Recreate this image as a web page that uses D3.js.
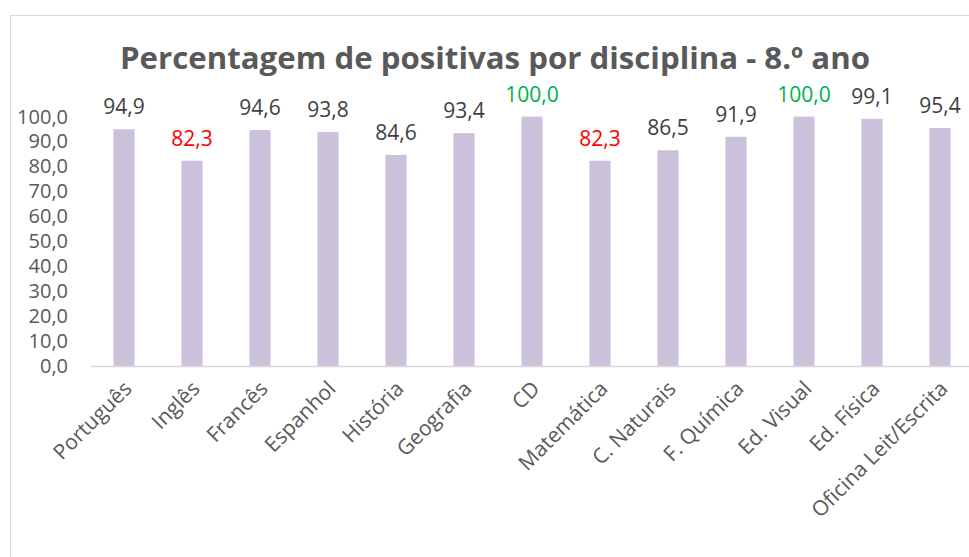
<!DOCTYPE html>
<html>
<head>
<meta charset="utf-8">
<script src="https://cdn.jsdelivr.net/npm/d3@7"></script>
<style>
  body { margin: 0; background: #fff; }
  svg { display: block; font-family: "Open Sans", sans-serif; }
</style>
</head>
<body>
<script>
// chart data
const disciplinas = ['Português', 'Inglês', 'Francês', 'Espanhol', 'História', 'Geografia', 'CD',
    'Matemática', 'C. Naturais', 'F. Química', 'Ed. Visual', 'Ed. Física', 'Oficina Leit/Escrita'];
const positivas = [94.9, 82.3, 94.6, 93.8, 84.6, 93.4, 100.0, 82.3, 86.5, 91.9, 100.0, 99.1, 95.4];
const labelCores = ['#404040', '#FF0000', '#404040', '#404040', '#404040', '#404040', '#00B050',
    '#FF0000', '#404040', '#404040', '#00B050', '#404040', '#404040'];
const yTicks = [0, 10, 20, 30, 40, 50, 60, 70, 80, 90, 100];
const titulo = 'Percentagem de positivas por disciplina - 8.º ano';

const w = 969;
const h = 557;

const fmt = v => v.toFixed(1).replace('.', ',');

const svg = d3.select('body')
    .append('svg')
    .attr('width', w)
    .attr('height', h)

// chart border (cut off on the right and bottom)
svg.append('rect')
    .attr('x', 10.5)
    .attr('y', 15.5)
    .attr('width', 1000)
    .attr('height', 600)
    .attr('fill', 'none')
    .attr('stroke', '#D9D9D9')

svg.append('text')
    .attr('x', 495)
    .attr('y', 69)
    .attr('text-anchor', 'middle')
    .attr('font-size', 31)
    .attr('font-weight', 'bold')
    .attr('fill', '#595959')
    .attr('textLength', 750)
    .attr('lengthAdjust', 'spacingAndGlyphs')
    .text(titulo)

const xScale = d3.scaleBand()
    .domain(disciplinas)
    .range([90, 974])
    .paddingInner(0.69)
    .paddingOuter(0.345)

const yScale = d3.scaleLinear()
    .domain([0, 100])
    .range([366, 116.6])

// y axis labels, no line
const yAxis = d3.axisLeft(yScale)
    .tickValues(yTicks)
    .tickFormat(fmt)
    .tickSize(0)
    .tickPadding(0)

const gy = svg.append('g')
    .attr('transform', 'translate(68,0)')
    .call(yAxis)
gy.select('.domain').remove()
gy.selectAll('text')
    .attr('font-size', 20)
    .attr('font-family', '"Open Sans", sans-serif')
    .attr('fill', '#595959')

svg.selectAll('rect.bar')
    .data(positivas)
    .enter()
    .append('rect')
    .attr('class', 'bar')
    .attr('x', (d, i) => xScale(disciplinas[i]))
    .attr('y', d => yScale(d))
    .attr('width', xScale.bandwidth())
    .attr('height', d => yScale(0) - yScale(d))
    .attr('fill', '#CBC1DB')

// data labels
svg.selectAll('text.valor')
    .data(positivas)
    .enter()
    .append('text')
    .attr('class', 'valor')
    .attr('x', (d, i) => xScale(disciplinas[i]) + xScale.bandwidth() / 2)
    .attr('y', d => yScale(d) - 15)
    .attr('text-anchor', 'middle')
    .attr('font-size', 21)
    .attr('fill', (d, i) => labelCores[i])
    .text(fmt)

// x axis
const xAxis = d3.axisBottom(xScale)
    .tickSize(0)
    .tickPadding(0)

const gx = svg.append('g')
    .attr('transform', 'translate(0,366)')
    .call(xAxis)
gx.select('.domain')
    .attr('stroke', '#D9D9D9')
    .attr('stroke-width', 1.5)
gx.selectAll('text')
    .attr('font-size', 21)
    .attr('font-family', '"Open Sans", sans-serif')
    .attr('fill', '#595959')
    .attr('text-anchor', 'end')
    .attr('dy', 0)
    .attr('transform', 'translate(9,24) rotate(-45)')

</script>
</body>
</html>
